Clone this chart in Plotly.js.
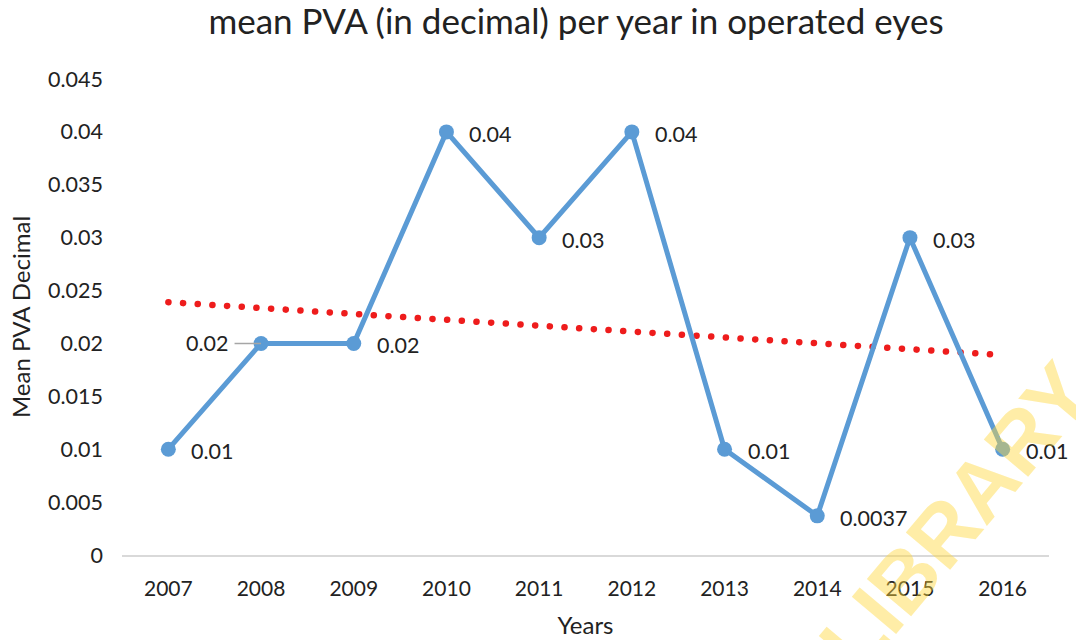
<!DOCTYPE html>
<html>
<head>
<meta charset="utf-8">
<script src="https://cdn.plot.ly/plotly-3.0.1.min.js"></script>
<style>
html,body{margin:0;padding:0;background:#fff;}
#chart{width:1076px;height:640px;}
#chart .scatterlayer .trace:first-child path.js-line{stroke-linecap:round;}
</style>
</head>
<body>
<div id="chart"></div>
<script>
const years = ['2007','2008','2009','2010','2011','2012','2013','2014','2015','2016'];
const meanPVA = [0.01, 0.02, 0.02, 0.04, 0.03, 0.04, 0.01, 0.0037, 0.03, 0.01];
const labels = ['0.01','0.02','0.02','0.04','0.03','0.04','0.01','0.0037','0.03','0.01'];
const trendYears = ['2007','2016'];
const trendValues = [0.0239, 0.0189];
const yTicks = [0,0.005,0.01,0.015,0.02,0.025,0.03,0.035,0.04,0.045];
const yTickText = ['0','0.005','0.01','0.015','0.02','0.025','0.03','0.035','0.04','0.045'];

const FONT = 'Lato, "Open Sans", sans-serif';
const TXT = '#222222';

const traces = [
  {
    x: trendYears, y: trendValues, type: 'scatter', mode: 'lines',
    line: {color: '#EE1C1C', width: 6.5, dash: '0.1px,14.6px'},
    hoverinfo: 'skip', showlegend: false
  },
  {
    x: years, y: meanPVA, type: 'scatter', mode: 'lines+markers',
    line: {color: '#5B9BD5', width: 5},
    marker: {color: '#5B9BD5', size: 15},
    showlegend: false, cliponaxis: false
  }
];

const annotations = years.map((yr, i) => {
  if (i === 1) {
    return {x: i, y: meanPVA[i], xref: 'x', yref: 'y', text: labels[i],
      showarrow: true, ax: -54, ay: 0, arrowhead: 0, arrowwidth: 1.5,
      arrowcolor: '#A6A6A6', standoff: 0, borderpad: 6,
      font: {family: FONT, size: 21.5, color: TXT}};
  }
  return {x: i, y: meanPVA[i], xref: 'x', yref: 'y', text: labels[i],
    showarrow: false, xanchor: 'left', yanchor: 'middle', xshift: 21, yshift: -2,
    font: {family: FONT, size: 21.5, color: TXT}};
});
annotations.push({
  xref: 'paper', yref: 'paper', x: 0.9, y: 0.08, text: '<b>LIBRARY</b>',
  showarrow: false, textangle: -50, xanchor: 'center', yanchor: 'middle',
  font: {family: 'Liberation Sans, Arial, sans-serif', size: 84, color: 'rgba(255,215,60,0.45)'}
});

const layout = {
  width: 1076, height: 640,
  margin: {l: 122, r: 27, t: 79, b: 85},
  paper_bgcolor: '#ffffff', plot_bgcolor: '#ffffff',
  font: {family: FONT, color: TXT},
  title: {text: 'mean PVA (in decimal) per year in operated eyes',
    font: {family: FONT, size: 35, color: TXT},
    x: 576/1076, xanchor: 'center', xref: 'container',
    y: 1 - 22/640, yanchor: 'middle', yref: 'container'},
  xaxis: {
    type: 'category', categoryorder: 'array', categoryarray: years,
    range: [-0.5, 9.5], showgrid: false, zeroline: false,
    showline: true, linecolor: '#D9D9D9', linewidth: 1.5,
    ticks: '', ticklabelstandoff: 14,
    tickfont: {family: FONT, size: 21, color: TXT},
    title: {text: 'Years', font: {family: FONT, size: 24, color: TXT}, standoff: 18}
  },
  yaxis: {
    range: [0, 0.045], tickvals: yTicks, ticktext: yTickText,
    showgrid: false, zeroline: false, showline: false, ticks: '',
    ticklabelstandoff: 18,
    tickfont: {family: FONT, size: 21.5, color: TXT},
    title: {text: 'Mean PVA Decimal', font: {family: FONT, size: 24, color: TXT}, standoff: 10}
  },
  annotations: annotations
};

Plotly.newPlot('chart', traces, layout, {displayModeBar: false, staticPlot: true});
</script>
</body>
</html>
